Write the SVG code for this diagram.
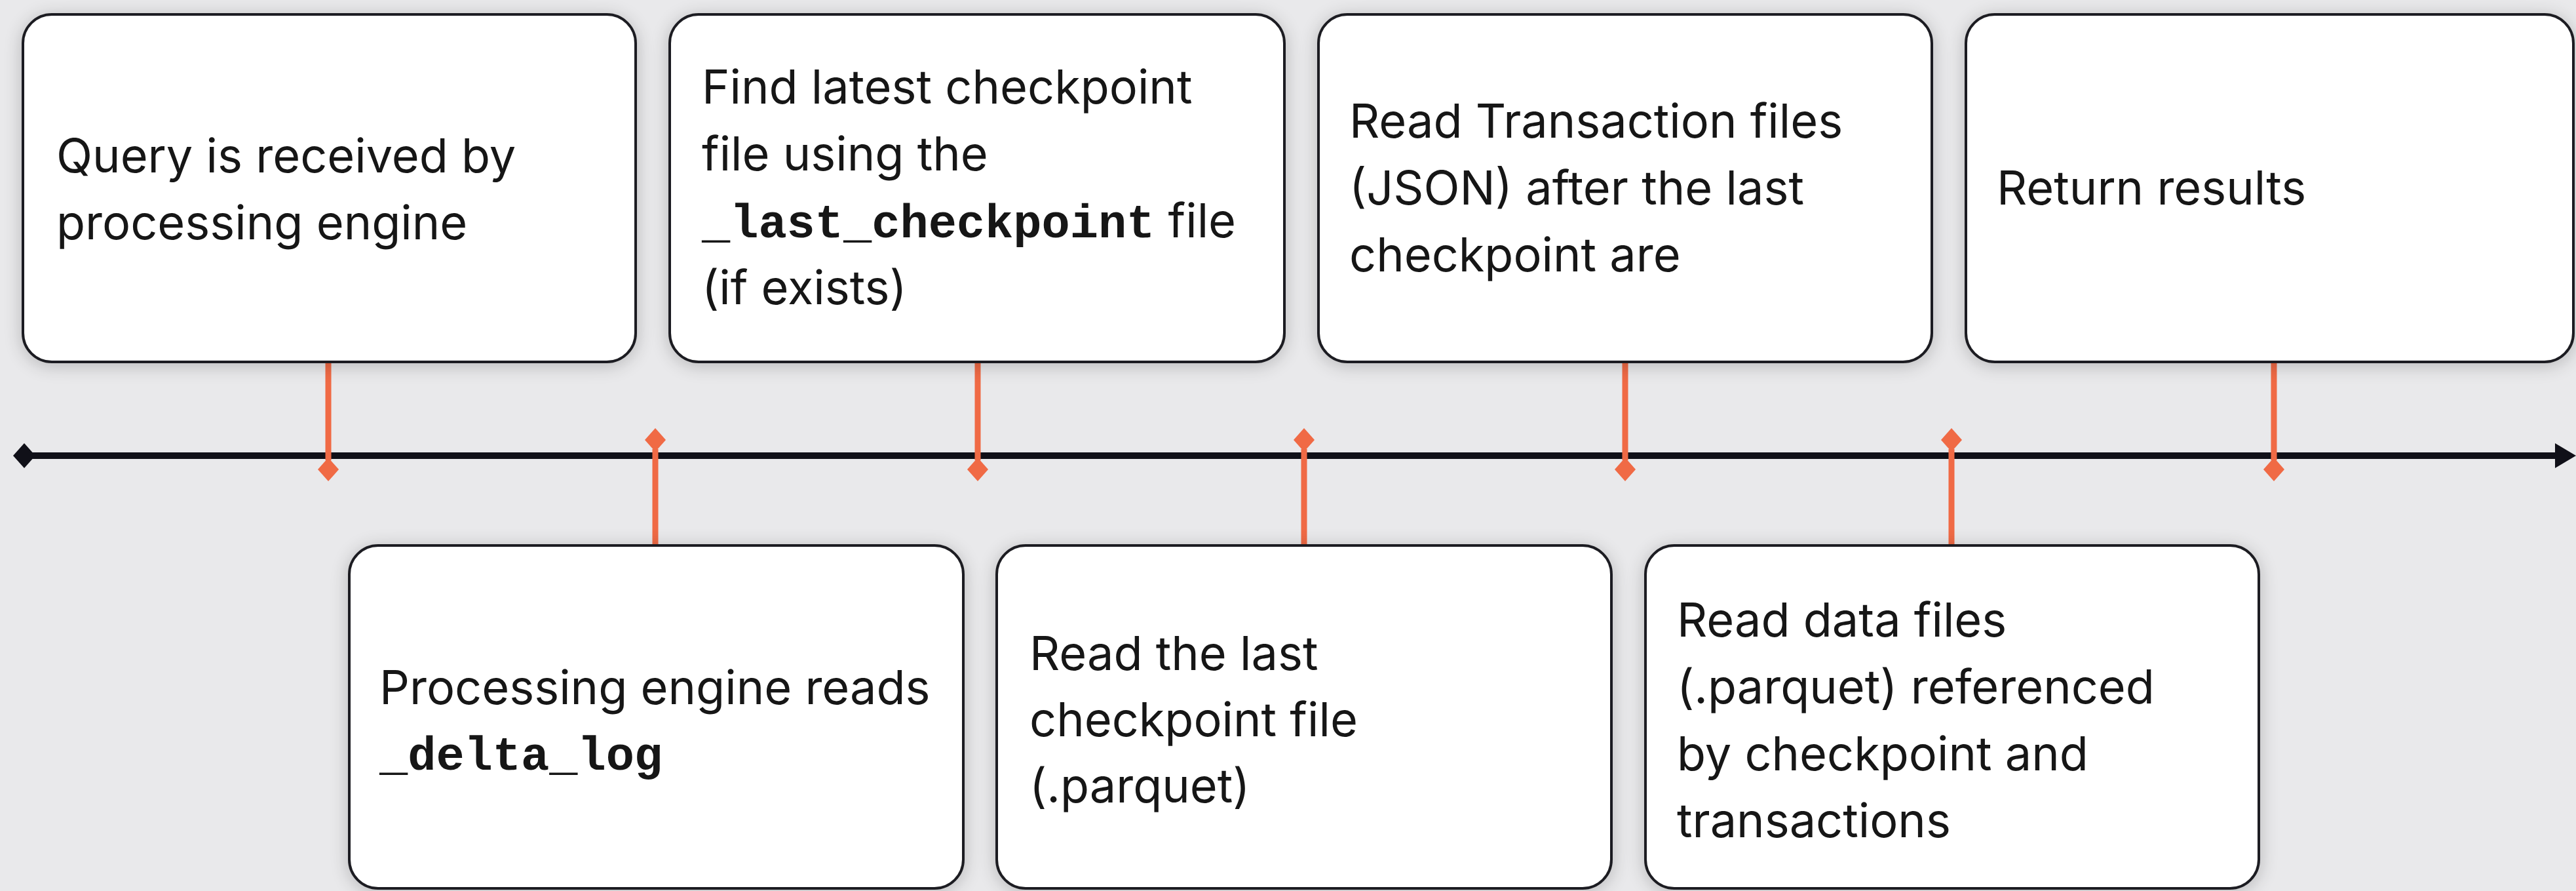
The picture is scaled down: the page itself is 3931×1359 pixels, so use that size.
<svg xmlns="http://www.w3.org/2000/svg" width="3931" height="1359" viewBox="0 0 3931 1359">
  <defs>
    <filter id="soft" x="-10%" y="-10%" width="120%" height="120%">
      <feGaussianBlur in="SourceAlpha" stdDeviation="14"/>
      <feOffset dx="0" dy="4" result="b"/>
      <feComponentTransfer><feFuncA type="linear" slope="0.22"/></feComponentTransfer>
      <feMerge><feMergeNode/><feMergeNode in="SourceGraphic"/></feMerge>
    </filter>
    <!-- orange tick-end diamond -->
    <path id="dia" d="M0,-18 L16,0 L0,18 L-16,0 Z" fill="#F06A45"/>
  </defs>
  <style>
    .box { fill: #ffffff; stroke: #1e1e22; stroke-width: 4; }
    .txt { font-family: Inter, "Liberation Sans", sans-serif; font-size: 72px; fill: #141414; }
    .mono { font-family: "Liberation Mono", "DejaVu Sans Mono", monospace; font-weight: bold; font-size: 72px; }
    .tick { stroke: #F06A45; stroke-width: 9; fill: none; }
  </style>

  <rect width="3931" height="1359" fill="#E9E9EB"/>

  <!-- timeline axis and ticks -->
  <g id="connectors">
    <line x1="36" y1="695" x2="3904" y2="695" stroke="#101018" stroke-width="10"/>
    <path d="M20,695 L37,676 L54,695 L37,714 Z" fill="#101018"/>
    <path d="M3899,676 L3931,695 L3899,714 Z" fill="#101018"/>

    <!-- ticks from upper steps (diamond below the axis) -->
    <line class="tick" x1="501" y1="540" x2="501" y2="702"/>
    <use href="#dia" x="501" y="716"/>
    <line class="tick" x1="1492" y1="540" x2="1492" y2="702"/>
    <use href="#dia" x="1492" y="716"/>
    <line class="tick" x1="2480" y1="540" x2="2480" y2="702"/>
    <use href="#dia" x="2480" y="716"/>
    <line class="tick" x1="3470" y1="540" x2="3470" y2="702"/>
    <use href="#dia" x="3470" y="716"/>

    <!-- ticks from lower steps (diamond above the axis) -->
    <line class="tick" x1="1000" y1="845" x2="1000" y2="685"/>
    <use href="#dia" x="1000" y="671"/>
    <line class="tick" x1="1990" y1="845" x2="1990" y2="685"/>
    <use href="#dia" x="1990" y="671"/>
    <line class="tick" x1="2978" y1="845" x2="2978" y2="685"/>
    <use href="#dia" x="2978" y="671"/>
  </g>

  <g id="step1" filter="url(#soft)">
    <rect class="box" x="35" y="22" width="935" height="530" rx="44"/>
    <text class="txt" x="86" y="263">Query is received by</text>
    <text class="txt" x="86" y="365">processing engine</text>
  </g>

  <g id="step2" filter="url(#soft)">
    <rect class="box" x="533" y="832" width="937" height="523" rx="44"/>
    <text class="txt" x="579" y="1074">Processing engine reads</text>
    <text class="txt mono" x="579" y="1174">_delta_log</text>
  </g>

  <g id="step3" filter="url(#soft)">
    <rect class="box" x="1022" y="22" width="938" height="530" rx="44"/>
    <text class="txt" x="1071" y="158">Find latest checkpoint</text>
    <text class="txt" x="1071" y="260">file using the</text>
    <text class="txt" x="1071" y="362"><tspan class="mono">_last_checkpoint</tspan> file</text>
    <text class="txt" x="1071" y="464">(if exists)</text>
  </g>

  <g id="step4" filter="url(#soft)">
    <rect class="box" x="1521" y="832" width="938" height="523" rx="44"/>
    <text class="txt" x="1571" y="1022">Read the last</text>
    <text class="txt" x="1571" y="1123">checkpoint file</text>
    <text class="txt" x="1571" y="1224">(.parquet)</text>
  </g>

  <g id="step5" filter="url(#soft)">
    <rect class="box" x="2012" y="22" width="936" height="530" rx="44"/>
    <text class="txt" x="2059" y="210">Read Transaction files</text>
    <text class="txt" x="2059" y="312">(JSON) after the last</text>
    <text class="txt" x="2059" y="414">checkpoint are</text>
  </g>

  <g id="step6" filter="url(#soft)">
    <rect class="box" x="2511" y="832" width="936" height="523" rx="44"/>
    <text class="txt" x="2559" y="971">Read data files</text>
    <text class="txt" x="2559" y="1073">(.parquet) referenced</text>
    <text class="txt" x="2559" y="1175">by checkpoint and</text>
    <text class="txt" x="2559" y="1277">transactions</text>
  </g>

  <g id="step7" filter="url(#soft)">
    <rect class="box" x="3000" y="22" width="927" height="530" rx="44"/>
    <text class="txt" x="3047" y="312">Return results</text>
  </g>
</svg>
